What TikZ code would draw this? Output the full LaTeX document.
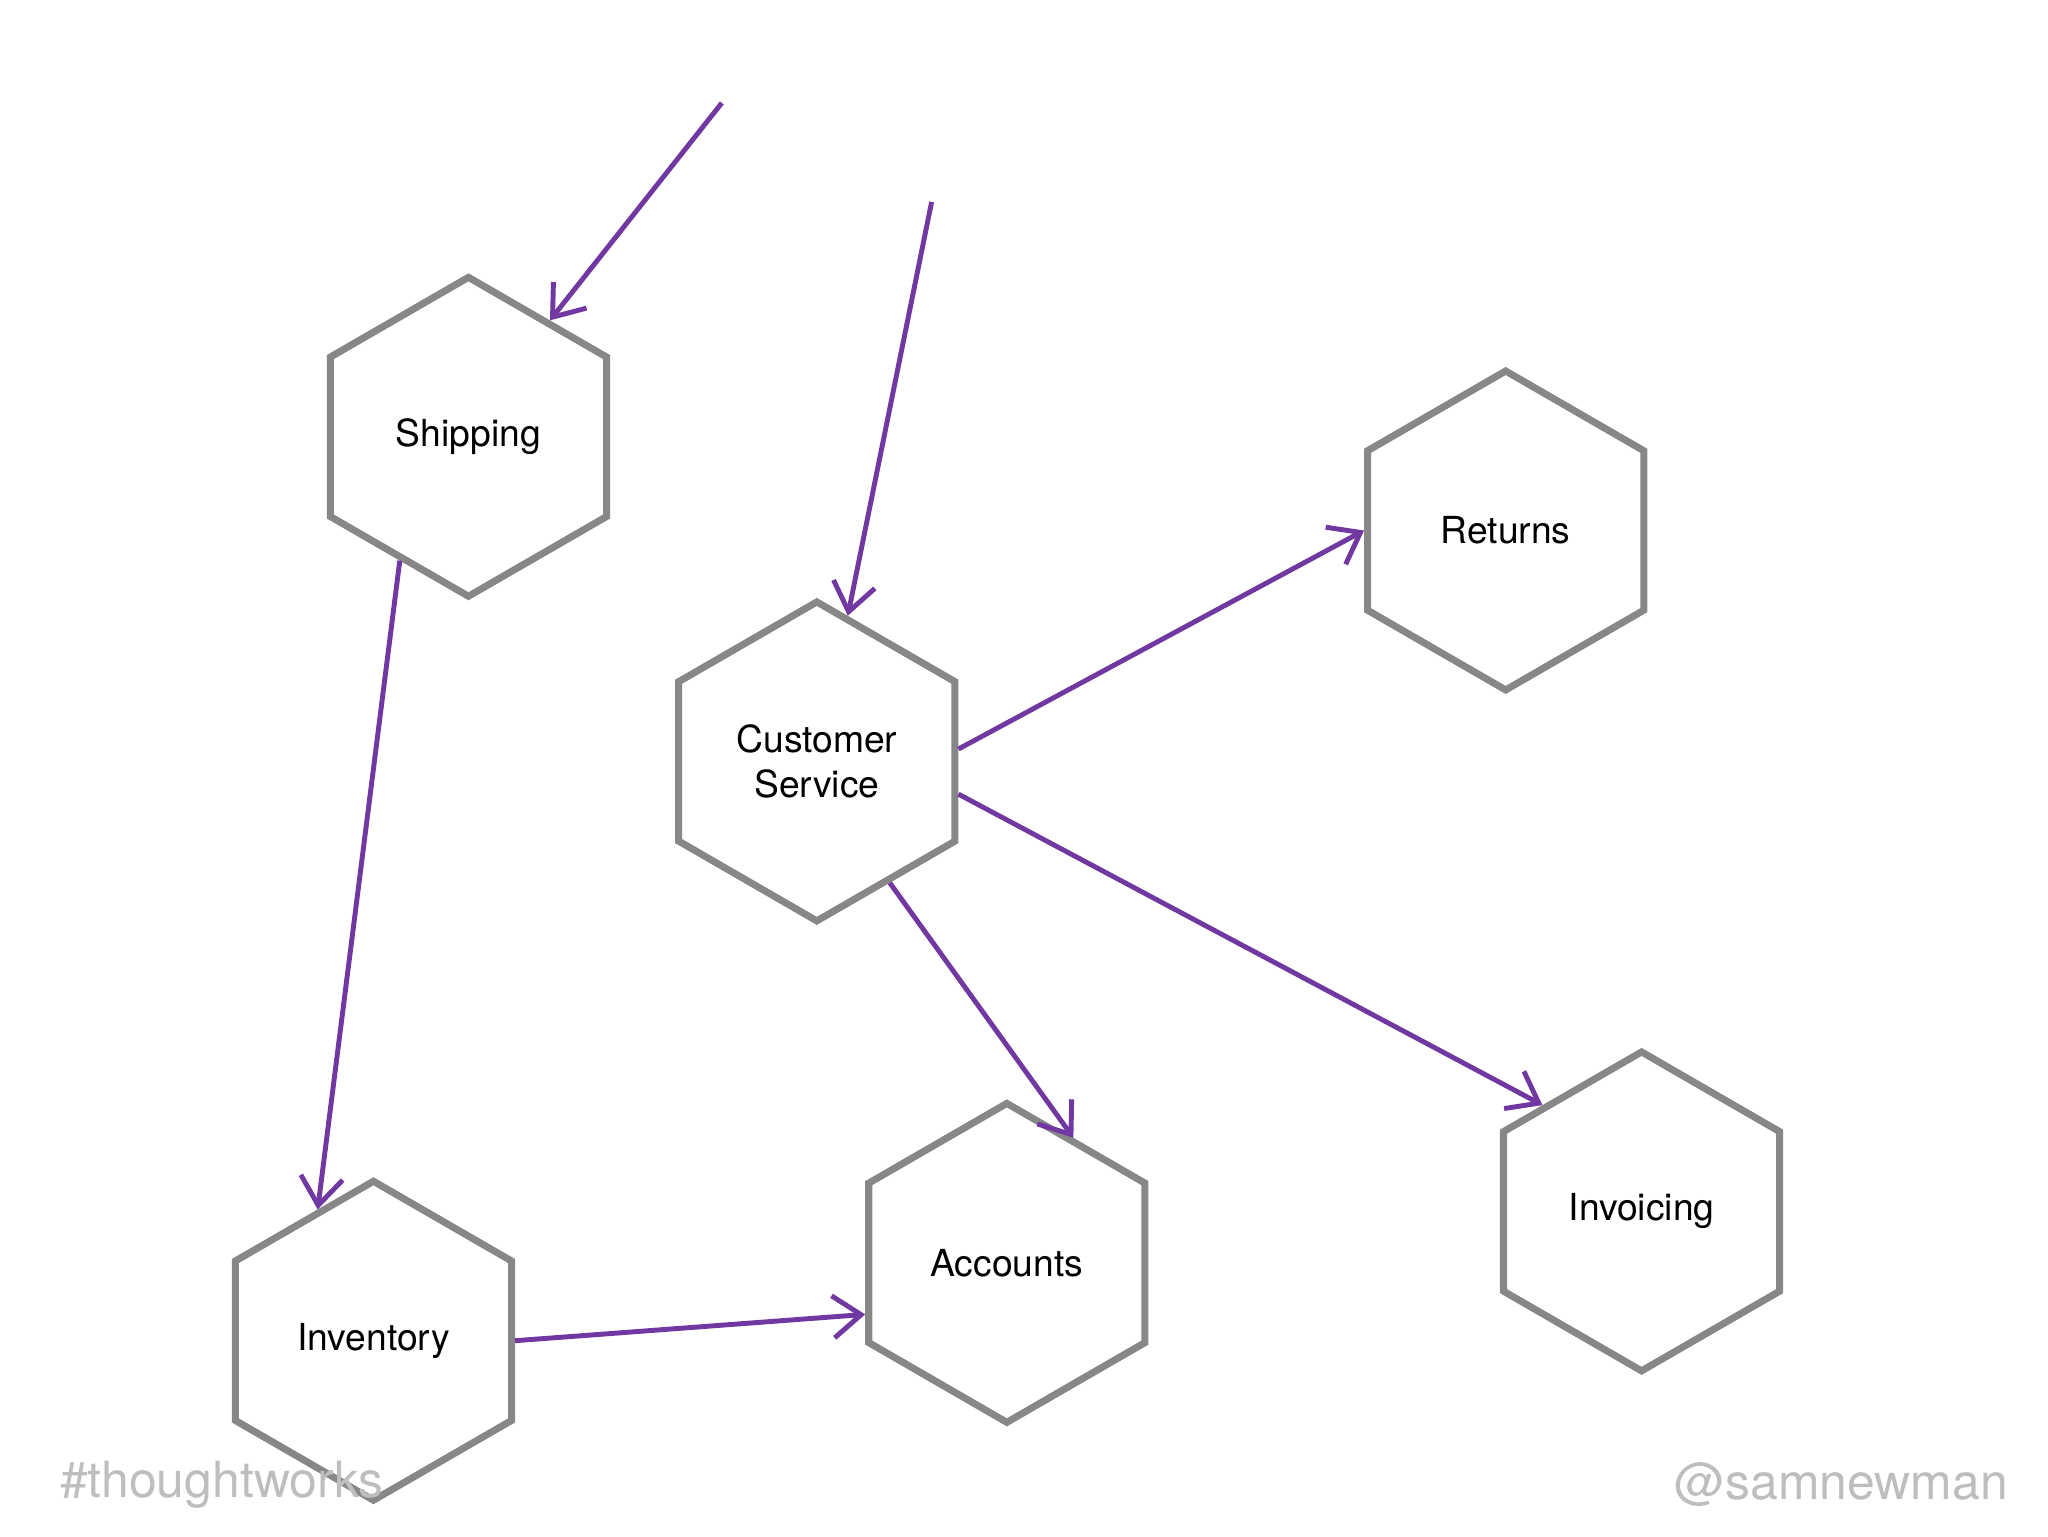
\documentclass[tikz,border=0pt]{standalone}
\usepackage{fontspec}
\setmainfont{TeX Gyre Heros}
\usetikzlibrary{shapes.geometric,arrows.meta}
\definecolor{hexgray}{RGB}{135,135,135}
\definecolor{arrpurple}{RGB}{112,56,160}
\definecolor{footgray}{RGB}{190,190,190}
\tikzset{
  hexnode/.style={regular polygon, regular polygon sides=6, regular polygon rotate=30, minimum size=3.19cm, inner sep=0pt,
    draw=hexgray, line width=2pt, align=center, font=\fontsize{10.6}{13}\selectfont},
  arr/.style={draw=arrpurple, line width=1.4pt, -{Straight Barb[length=8pt,width=12pt]}},
  foot/.style={text=footgray, font=\fontsize{14.2}{17}\selectfont, inner sep=0pt}
}
\begin{document}
\begin{tikzpicture}[x=0.013196cm, y=-0.013196cm]
\useasboundingbox (0,0) rectangle (1552,1164);
\node[hexnode] (ship) at (355,331) {Shipping};
\node[hexnode] (cs) at (619,577) {Customer\\Service};
\node[hexnode] (ret) at (1141,402) {Returns};
\node[hexnode] (inv) at (1244,918) {Invoicing};
\node[hexnode] (acc) at (763,957) {Accounts};
\node[hexnode] (invt) at (283,1016) {Inventory};
\coordinate (s1) at (547,78);
\coordinate (s2) at (706,153);
\draw[arr] (s1) -- (ship.55);
\draw[arr] (s2) -- (cs.78);
\draw[arr] (ship.-119) -- (invt.113);
\draw[arr] (cs.5) -- (ret.180);
\draw[arr] (cs.-13) -- (inv.133);
\draw[arr] (cs.-59) -- (acc.62);
\draw[arr] (invt.0) -- (acc.-160);
\node[foot, anchor=west] (tw) at (45,1125) {\#thoughtworks};
\node[foot, anchor=east] (sn) at (1522,1125) {@samnewman};
\end{tikzpicture}
\end{document}
